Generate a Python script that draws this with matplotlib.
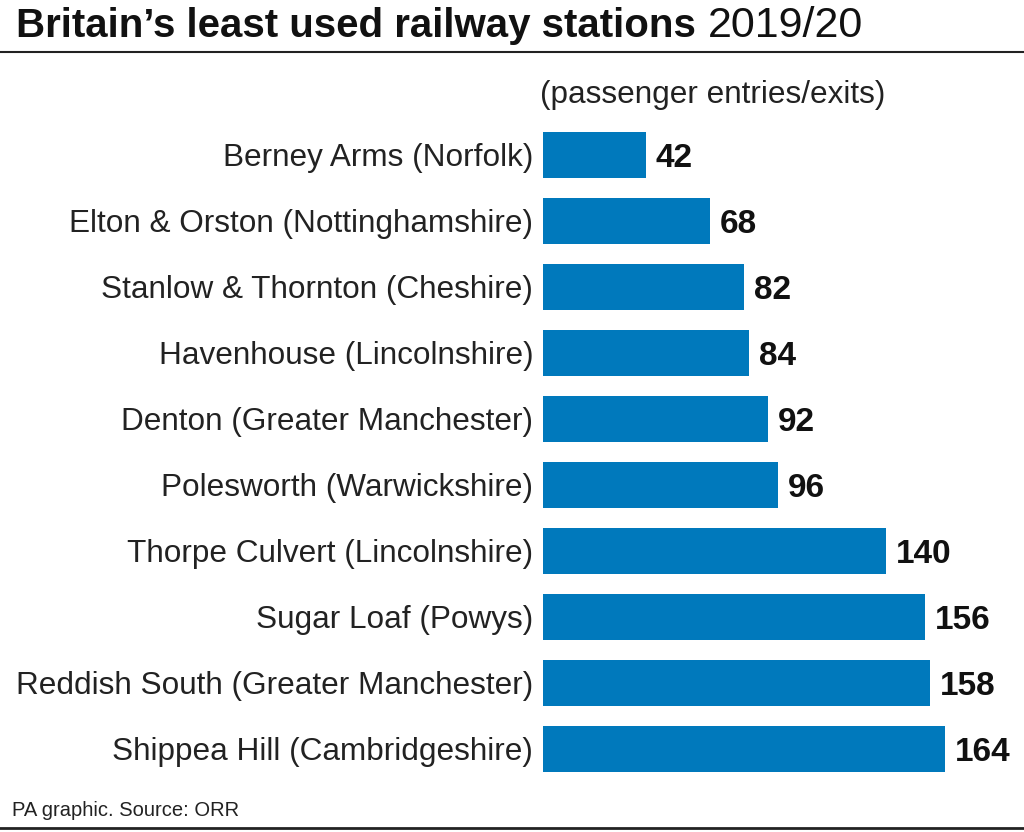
import matplotlib
matplotlib.use("Agg")
import matplotlib.pyplot as plt

plt.rcParams['font.family'] = ['Liberation Sans', 'DejaVu Sans']

stations = ["Berney Arms (Norfolk)", "Elton & Orston (Nottinghamshire)", "Stanlow & Thornton (Cheshire)",
            "Havenhouse (Lincolnshire)", "Denton (Greater Manchester)", "Polesworth (Warwickshire)",
            "Thorpe Culvert (Lincolnshire)", "Sugar Loaf (Powys)", "Reddish South (Greater Manchester)",
            "Shippea Hill (Cambridgeshire)"]
values = [42, 68, 82, 84, 92, 96, 140, 156, 158, 164]
W, H = 1024, 832

fig = plt.figure(figsize=(W/100, H/100), dpi=100)
# axes: x=0 at pixel 543, 2.45 px per passenger, rows 66 px apart
ax = fig.add_axes([543/W, 1-782/H, (1024-543)/W, 660/H])
ax.barh(range(len(values)), values, height=0.7, color="#0079BC")
ax.set_xlim(0, (1024-543)/2.45)
ax.set_ylim(9.5, -0.5)
ax.axis("off")

for i, v in enumerate(values):
    ax.annotate(str(v), (v, i), xytext=(7, -2.5), textcoords="offset points", va="center", ha="left",
                fontsize=24, fontweight="bold", color="#111111")
    ax.annotate(stations[i], (0, i), xytext=(-7, -2), textcoords="offset points", va="center", ha="right",
                fontsize=22.7, color="#222222", annotation_clip=False)

fig.text(16/W, 1-26/H, "Britain’s least used railway stations", fontsize=29, fontweight="bold", va="center", color="#111111")
fig.text(708/W, 1-26/H, "2019/20", fontsize=31, va="center", color="#111111")
fig.text(540/W, 1-95/H, "(passenger entries/exits)", fontsize=22.7, va="center", color="#222222")
fig.text(12/W, 1-811/H, "PA graphic. Source: ORR", fontsize=14.5, va="center", color="#222222")
fig.add_artist(plt.Line2D([0, 1], [1-52/H, 1-52/H], color="#222222", lw=1.5))
fig.add_artist(plt.Line2D([0, 1], [1-828/H, 1-828/H], color="#222222", lw=2))

fig.savefig("out.png", dpi=100)
